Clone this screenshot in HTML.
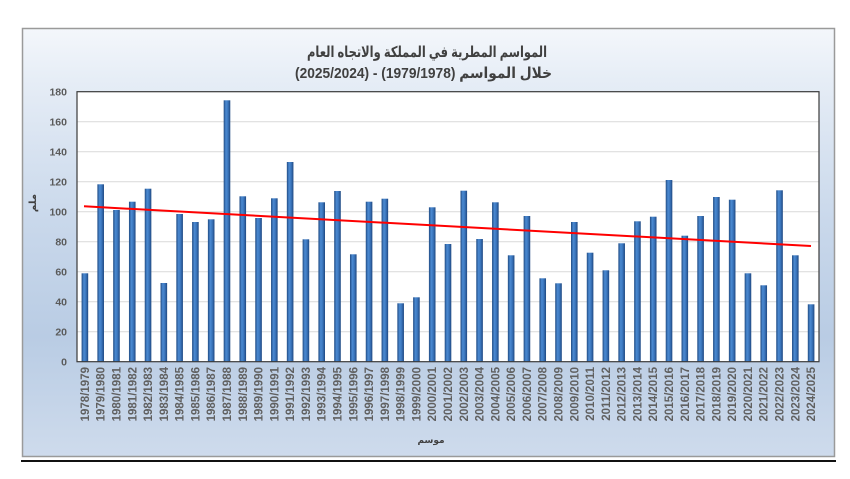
<!DOCTYPE html>
<html>
<head>
<meta charset="utf-8">
<style>
html,body{margin:0;padding:0;background:#fff;}
body{width:850px;height:479px;overflow:hidden;}
svg{display:block;}
.yl{font-family:"Liberation Sans","DejaVu Sans",sans-serif;font-size:10.5px;font-weight:bold;fill:#5a5a5a;}
.xl{font-family:"Liberation Sans","DejaVu Sans",sans-serif;font-size:11.5px;font-weight:bold;fill:#606060;}
.ti{font-family:"Liberation Sans","DejaVu Sans",sans-serif;font-weight:bold;fill:#404040;}
</style>
</head>
<body>
<svg width="850" height="479" viewBox="0 0 850 479" xmlns="http://www.w3.org/2000/svg">
<defs>
<linearGradient id="bg" x1="0" y1="0" x2="0" y2="1">
<stop offset="0" stop-color="#f4f7fb"/>
<stop offset="0.12" stop-color="#e6edf6"/>
<stop offset="0.45" stop-color="#c9d8eb"/>
<stop offset="0.72" stop-color="#b9cce4"/>
<stop offset="1" stop-color="#cedbec"/>
</linearGradient>
<linearGradient id="bar" x1="0" y1="0" x2="1" y2="0">
<stop offset="0" stop-color="#1f4a82"/>
<stop offset="0.35" stop-color="#4b8ad2"/>
<stop offset="0.65" stop-color="#3b76bd"/>
<stop offset="1" stop-color="#1e4780"/>
</linearGradient>
</defs>

<!-- frame -->
<rect x="22.5" y="28.5" width="812" height="428" fill="url(#bg)" stroke="#9a9a9a" stroke-width="1.5"/>
<rect x="21" y="460" width="815" height="2" fill="#111"/>

<!-- title -->
<text class="ti" x="427" y="57" font-size="15" text-anchor="middle" direction="rtl" textLength="240" lengthAdjust="spacingAndGlyphs">المواسم المطرية في المملكة والاتجاه العام</text>
<text class="ti" x="423.5" y="78" font-size="15" text-anchor="middle" direction="rtl" textLength="257" lengthAdjust="spacingAndGlyphs">خلال المواسم (1979/1978) - (2025/2024)</text>

<!-- plot area -->
<rect x="77" y="91.7" width="742" height="270" fill="#ffffff"/>
<g stroke="#d9d9d9" stroke-width="1">
<line x1="77" y1="331.7" x2="819" y2="331.7"/>
<line x1="77" y1="301.7" x2="819" y2="301.7"/>
<line x1="77" y1="271.7" x2="819" y2="271.7"/>
<line x1="77" y1="241.7" x2="819" y2="241.7"/>
<line x1="77" y1="211.7" x2="819" y2="211.7"/>
<line x1="77" y1="181.7" x2="819" y2="181.7"/>
<line x1="77" y1="151.7" x2="819" y2="151.7"/>
<line x1="77" y1="121.7" x2="819" y2="121.7"/>
</g>

<!-- bars -->
<g fill="url(#bar)">
<rect x="81.59" y="273.3" width="6.6" height="88.4"/>
<rect x="97.38" y="184.3" width="6.6" height="177.4"/>
<rect x="113.17" y="210" width="6.6" height="151.7"/>
<rect x="128.96" y="201.7" width="6.6" height="160"/>
<rect x="144.74" y="188.7" width="6.6" height="173"/>
<rect x="160.53" y="283" width="6.6" height="78.7"/>
<rect x="176.32" y="214" width="6.6" height="147.7"/>
<rect x="192.10" y="222" width="6.6" height="139.7"/>
<rect x="207.89" y="219.3" width="6.6" height="142.4"/>
<rect x="223.68" y="100.3" width="6.6" height="261.4"/>
<rect x="239.47" y="196.3" width="6.6" height="165.4"/>
<rect x="255.25" y="218" width="6.6" height="143.7"/>
<rect x="271.04" y="198.3" width="6.6" height="163.4"/>
<rect x="286.83" y="162" width="6.6" height="199.7"/>
<rect x="302.61" y="239.3" width="6.6" height="122.4"/>
<rect x="318.40" y="202.3" width="6.6" height="159.4"/>
<rect x="334.19" y="191" width="6.6" height="170.7"/>
<rect x="349.98" y="254.3" width="6.6" height="107.4"/>
<rect x="365.76" y="201.7" width="6.6" height="160"/>
<rect x="381.55" y="198.7" width="6.6" height="163"/>
<rect x="397.34" y="303.3" width="6.6" height="58.4"/>
<rect x="413.12" y="297.3" width="6.6" height="64.4"/>
<rect x="428.91" y="207.3" width="6.6" height="154.4"/>
<rect x="444.70" y="244" width="6.6" height="117.7"/>
<rect x="460.49" y="190.7" width="6.6" height="171"/>
<rect x="476.27" y="239" width="6.6" height="122.7"/>
<rect x="492.06" y="202.3" width="6.6" height="159.4"/>
<rect x="507.85" y="255.3" width="6.6" height="106.4"/>
<rect x="523.63" y="216" width="6.6" height="145.7"/>
<rect x="539.42" y="278.3" width="6.6" height="83.4"/>
<rect x="555.21" y="283.3" width="6.6" height="78.4"/>
<rect x="571.00" y="222" width="6.6" height="139.7"/>
<rect x="586.78" y="252.7" width="6.6" height="109"/>
<rect x="602.57" y="270.3" width="6.6" height="91.4"/>
<rect x="618.36" y="243.3" width="6.6" height="118.4"/>
<rect x="634.14" y="221.3" width="6.6" height="140.4"/>
<rect x="649.93" y="216.7" width="6.6" height="145"/>
<rect x="665.72" y="180" width="6.6" height="181.7"/>
<rect x="681.51" y="235.7" width="6.6" height="126"/>
<rect x="697.29" y="216" width="6.6" height="145.7"/>
<rect x="713.08" y="197" width="6.6" height="164.7"/>
<rect x="728.87" y="199.7" width="6.6" height="162"/>
<rect x="744.65" y="273.3" width="6.6" height="88.4"/>
<rect x="760.44" y="285.3" width="6.6" height="76.4"/>
<rect x="776.23" y="190.3" width="6.6" height="171.4"/>
<rect x="792.02" y="255.3" width="6.6" height="106.4"/>
<rect x="807.80" y="304.3" width="6.6" height="57.4"/>
</g>

<!-- trend line -->
<line x1="84" y1="206.3" x2="811" y2="246" stroke="#ff0000" stroke-width="2"/>

<!-- plot border / axes -->
<rect x="77" y="91.7" width="742" height="270" fill="none" stroke="#3a3a3a" stroke-width="1.2"/>

<!-- y labels -->
<g class="yl" text-anchor="end">
<text x="67" y="365.5">0</text>
<text x="67" y="335.5">20</text>
<text x="67" y="305.5">40</text>
<text x="67" y="275.5">60</text>
<text x="67" y="245.5">80</text>
<text x="67" y="215.5">100</text>
<text x="67" y="185.5">120</text>
<text x="67" y="155.5">140</text>
<text x="67" y="125.5">160</text>
<text x="67" y="95.5">180</text>
</g>

<!-- axis titles -->
<text class="ti" font-size="10" fill="#404040" transform="translate(36,203) rotate(-90)" text-anchor="middle">ملم</text>
<text class="ti" font-size="9" x="431" y="443" text-anchor="middle">موسم</text>

<!-- x labels -->
<g class="xl" text-anchor="end">
<text transform="translate(88.9,367) rotate(-90)">1978/1979</text>
<text transform="translate(104.7,367) rotate(-90)">1979/1980</text>
<text transform="translate(120.5,367) rotate(-90)">1980/1981</text>
<text transform="translate(136.3,367) rotate(-90)">1981/1982</text>
<text transform="translate(152.0,367) rotate(-90)">1982/1983</text>
<text transform="translate(167.8,367) rotate(-90)">1983/1984</text>
<text transform="translate(183.6,367) rotate(-90)">1984/1985</text>
<text transform="translate(199.4,367) rotate(-90)">1985/1986</text>
<text transform="translate(215.2,367) rotate(-90)">1986/1987</text>
<text transform="translate(231.0,367) rotate(-90)">1987/1988</text>
<text transform="translate(246.8,367) rotate(-90)">1988/1989</text>
<text transform="translate(262.6,367) rotate(-90)">1989/1990</text>
<text transform="translate(278.3,367) rotate(-90)">1990/1991</text>
<text transform="translate(294.1,367) rotate(-90)">1991/1992</text>
<text transform="translate(309.9,367) rotate(-90)">1992/1993</text>
<text transform="translate(325.7,367) rotate(-90)">1993/1994</text>
<text transform="translate(341.5,367) rotate(-90)">1994/1995</text>
<text transform="translate(357.3,367) rotate(-90)">1995/1996</text>
<text transform="translate(373.1,367) rotate(-90)">1996/1997</text>
<text transform="translate(388.9,367) rotate(-90)">1997/1998</text>
<text transform="translate(404.6,367) rotate(-90)">1998/1999</text>
<text transform="translate(420.4,367) rotate(-90)">1999/2000</text>
<text transform="translate(436.2,367) rotate(-90)">2000/2001</text>
<text transform="translate(452.0,367) rotate(-90)">2001/2002</text>
<text transform="translate(467.8,367) rotate(-90)">2002/2003</text>
<text transform="translate(483.6,367) rotate(-90)">2003/2004</text>
<text transform="translate(499.4,367) rotate(-90)">2004/2005</text>
<text transform="translate(515.1,367) rotate(-90)">2005/2006</text>
<text transform="translate(530.9,367) rotate(-90)">2006/2007</text>
<text transform="translate(546.7,367) rotate(-90)">2007/2008</text>
<text transform="translate(562.5,367) rotate(-90)">2008/2009</text>
<text transform="translate(578.3,367) rotate(-90)">2009/2010</text>
<text transform="translate(594.1,367) rotate(-90)">2010/2011</text>
<text transform="translate(609.9,367) rotate(-90)">2011/2012</text>
<text transform="translate(625.7,367) rotate(-90)">2012/2013</text>
<text transform="translate(641.4,367) rotate(-90)">2013/2014</text>
<text transform="translate(657.2,367) rotate(-90)">2014/2015</text>
<text transform="translate(673.0,367) rotate(-90)">2015/2016</text>
<text transform="translate(688.8,367) rotate(-90)">2016/2017</text>
<text transform="translate(704.6,367) rotate(-90)">2017/2018</text>
<text transform="translate(720.4,367) rotate(-90)">2018/2019</text>
<text transform="translate(736.2,367) rotate(-90)">2019/2020</text>
<text transform="translate(751.9,367) rotate(-90)">2020/2021</text>
<text transform="translate(767.7,367) rotate(-90)">2021/2022</text>
<text transform="translate(783.5,367) rotate(-90)">2022/2023</text>
<text transform="translate(799.3,367) rotate(-90)">2023/2024</text>
<text transform="translate(815.1,367) rotate(-90)">2024/2025</text>
</g>
</svg>
</body>
</html>
